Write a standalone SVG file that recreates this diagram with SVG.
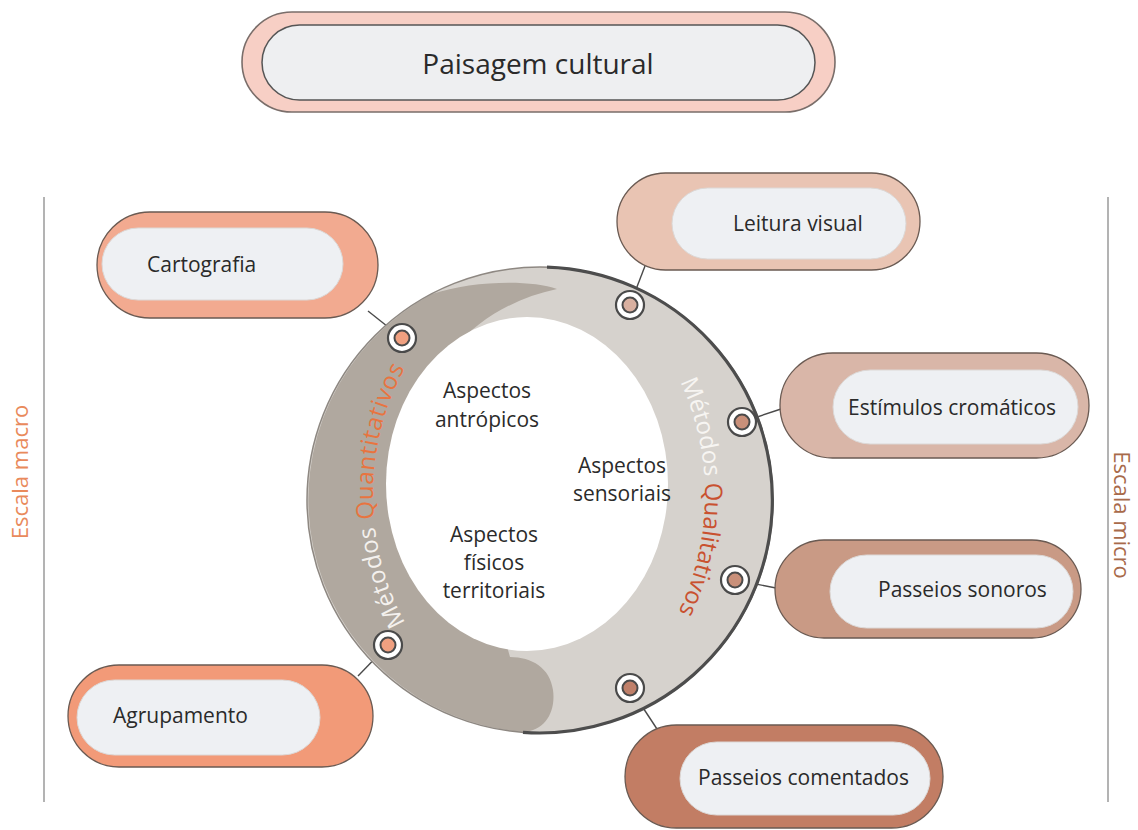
<svg xmlns="http://www.w3.org/2000/svg" width="1138" height="830" viewBox="0 0 1138 830">
  <style>
    text { font-family: "Open Sans", "Noto Sans", "Liberation Sans", sans-serif; }
    .lbl { font-size: 21px; fill: #2a2a2a; }
    .inner { fill: #eef0f3; stroke: #dcd8d6; stroke-width: 1; }
    .outer { stroke: #6a5a52; stroke-width: 1.3; }
    .conn { stroke: #4a4a4a; stroke-width: 1.4; fill: none; }
    .dotw { fill: #ffffff; stroke: #4a4a4a; stroke-width: 2.2; }
    .ring { font-size: 24px; }
    .asp { font-size: 21px; fill: #2b2b2b; text-anchor: middle; }
    .side { stroke: #9a9a9a; stroke-width: 1.5; }
  </style>
  <defs>
    <path id="ringPath" d="M 539,710 A 166 215 0 0 1 373,495 A 166 215 0 0 1 539,280 A 166 215 0 0 1 705,495 A 166 215 0 0 1 539,710 Z" fill="none"/>
  </defs>
  <rect width="1138" height="830" fill="#ffffff"/>

  <!-- side scales -->
  <g id="scale-macro">
    <line class="side" x1="44" y1="197" x2="44" y2="802"/>
    <text transform="translate(28,472) rotate(-90)" text-anchor="middle" font-size="22" fill="#e98a5c">Escala macro</text>
  </g>
  <g id="scale-micro">
    <line class="side" x1="1108" y1="197" x2="1108" y2="802"/>
    <text transform="translate(1114,515) rotate(90)" text-anchor="middle" font-size="22" fill="#a86a4a">Escala micro</text>
  </g>

  <!-- title -->
  <g id="paisagem">
    <rect x="242" y="12" width="593" height="100" rx="50" fill="#f7cfc5" stroke="#7a6e6a" stroke-width="1.6"/>
    <rect x="262" y="25" width="553" height="75" rx="37.5" fill="#eeeff1" stroke="#555555" stroke-width="1.5"/>
    <text x="538" y="74" text-anchor="middle" font-size="28" fill="#2a2a2a">Paisagem cultural</text>
  </g>

  <!-- connectors -->
  <g id="connectors">
    <line class="conn" x1="402" y1="338" x2="368" y2="311"/>
    <line class="conn" x1="630" y1="305" x2="645" y2="266"/>
    <line class="conn" x1="742" y1="422" x2="781" y2="409"/>
    <line class="conn" x1="735" y1="580" x2="776" y2="588"/>
    <line class="conn" x1="630" y1="688" x2="657" y2="729"/>
    <line class="conn" x1="388" y1="645" x2="358" y2="676"/>
  </g>

  <!-- ring -->
  <g id="ring">
    <circle cx="540" cy="500" r="233" fill="#d6d2cd"/>
    <path d="M 557,289 C 530,279 470,281 432,294 A 233 233 0 0 0 523,732 C 545,731 556,712 553,690 C 550,668 532,657 510,657 L 460,480 L 452,350 C 480,318 515,298 557,289 Z" fill="#b0a89f"/>
    <ellipse cx="527" cy="484" rx="141" ry="167" fill="#ffffff"/>
    <circle cx="540" cy="500" r="233" fill="none" stroke="#8e8882" stroke-width="1.5"/>
    <path d="M 547,267.1 A 233 233 0 1 1 523,732.4" fill="none" stroke="#4d4d4d" stroke-width="3.2"/>
    <text class="ring" letter-spacing="0.5"><textPath href="#ringPath" startOffset="300" text-anchor="middle"><tspan fill="#f4f1ee">Métodos </tspan><tspan fill="#e8743f">Quantitativos</tspan></textPath></text>
    <text class="ring"><textPath href="#ringPath" startOffset="903" text-anchor="middle"><tspan fill="#f7f5f2">Métodos </tspan><tspan fill="#c9512f">Qualitativos</tspan></textPath></text>
    <text class="asp"><tspan x="487" y="398">Aspectos</tspan><tspan x="487" y="427">antrópicos</tspan></text>
    <text class="asp"><tspan x="622" y="473">Aspectos</tspan><tspan x="622" y="501">sensoriais</tspan></text>
    <text class="asp"><tspan x="494" y="542">Aspectos</tspan><tspan x="494" y="570">físicos</tspan><tspan x="494" y="598">territoriais</tspan></text>
  </g>

  <!-- ring anchor dots -->
  <g id="dots">
    <g><circle class="dotw" cx="402" cy="338" r="14"/><circle cx="402" cy="338" r="7.5" fill="#f0a080" stroke="#4a4a4a" stroke-width="2"/></g>
    <g><circle class="dotw" cx="630" cy="305" r="14"/><circle cx="630" cy="305" r="7.5" fill="#d9b0a0" stroke="#4a4a4a" stroke-width="2"/></g>
    <g><circle class="dotw" cx="742" cy="422" r="14"/><circle cx="742" cy="422" r="7.5" fill="#c9907a" stroke="#4a4a4a" stroke-width="2"/></g>
    <g><circle class="dotw" cx="735" cy="580" r="14"/><circle cx="735" cy="580" r="7.5" fill="#c9907a" stroke="#4a4a4a" stroke-width="2"/></g>
    <g><circle class="dotw" cx="630" cy="688" r="14"/><circle cx="630" cy="688" r="7.5" fill="#c0806a" stroke="#4a4a4a" stroke-width="2"/></g>
    <g><circle class="dotw" cx="388" cy="645" r="14"/><circle cx="388" cy="645" r="7.5" fill="#f0a080" stroke="#4a4a4a" stroke-width="2"/></g>
  </g>

  <!-- nodes -->
  <g id="cartografia">
    <rect class="outer" x="97" y="212" width="281" height="106" rx="53" fill="#f2aa90"/>
    <rect class="inner" x="102" y="228" width="241" height="72" rx="36"/>
    <text class="lbl" x="147" y="272">Cartografia</text>
  </g>
  <g id="leitura-visual">
    <rect class="outer" x="617" y="173" width="303" height="97" rx="48.5" fill="#e9c4b3"/>
    <rect class="inner" x="672" y="188" width="234" height="71" rx="35.5"/>
    <text class="lbl" x="733" y="231">Leitura visual</text>
  </g>
  <g id="estimulos-cromaticos">
    <rect class="outer" x="780" y="353" width="309" height="105" rx="52.5" fill="#d9b6a8"/>
    <rect class="inner" x="833" y="370" width="245" height="74" rx="37"/>
    <text class="lbl" x="848" y="415">Estímulos cromáticos</text>
  </g>
  <g id="passeios-sonoros">
    <rect class="outer" x="775" y="540" width="306" height="98" rx="49" fill="#c99a85"/>
    <rect class="inner" x="830" y="555" width="243" height="73" rx="36.5"/>
    <text class="lbl" x="878" y="597">Passeios sonoros</text>
  </g>
  <g id="passeios-comentados">
    <rect class="outer" x="625" y="725" width="318" height="103" rx="51.5" fill="#c27d64"/>
    <rect class="inner" x="680" y="742" width="250" height="73" rx="36.5"/>
    <text class="lbl" x="698" y="785">Passeios comentados</text>
  </g>
  <g id="agrupamento">
    <rect class="outer" x="68" y="665" width="305" height="102" rx="51" fill="#f29a78"/>
    <rect class="inner" x="77" y="680" width="243" height="75" rx="37.5"/>
    <text class="lbl" x="113" y="723">Agrupamento</text>
  </g>
</svg>
